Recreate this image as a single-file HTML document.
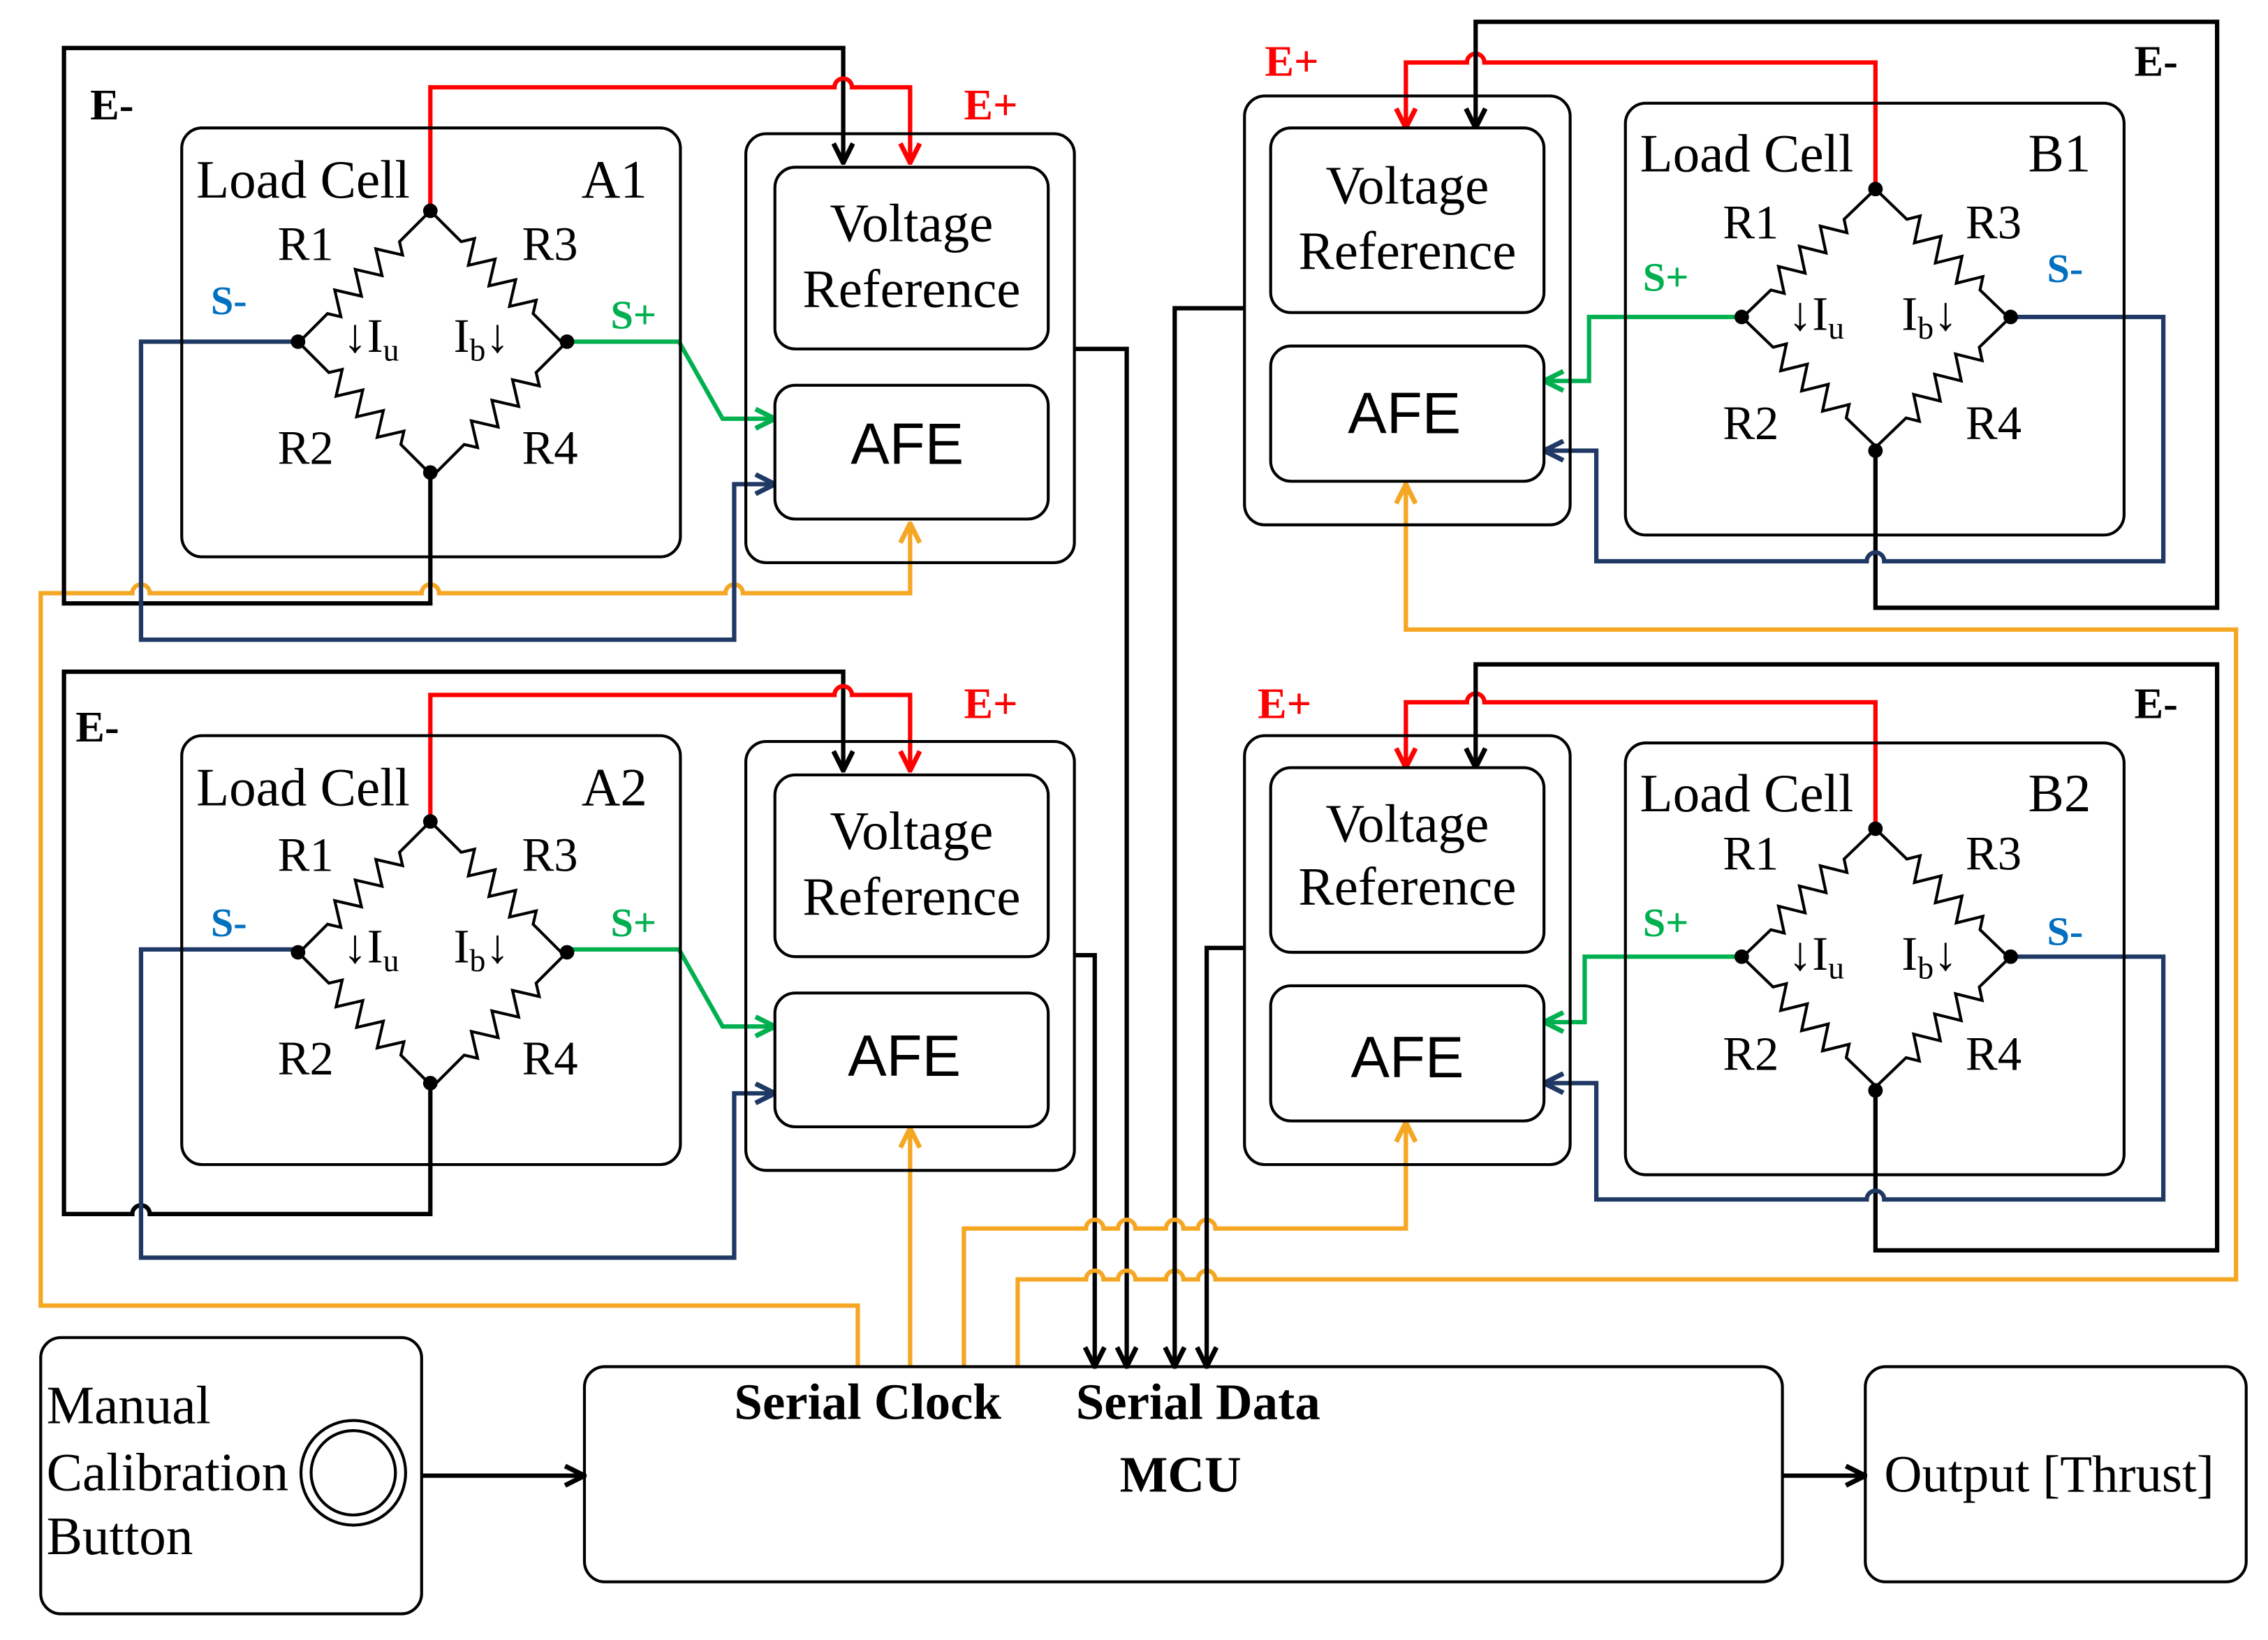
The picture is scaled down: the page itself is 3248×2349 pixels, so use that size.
<!DOCTYPE html>
<html><head><meta charset="utf-8"><style>
html,body{margin:0;padding:0;background:#fff}
svg{display:block}
text{font-family:"Liberation Serif",serif}
.s{font-family:"Liberation Sans",sans-serif}
</style></head><body>
<svg width="3248" height="2349" viewBox="0 0 1560 1128" preserveAspectRatio="none" xmlns="http://www.w3.org/2000/svg">
<defs>
<marker id="mk" markerUnits="userSpaceOnUse" viewBox="0 0 12 12" refX="11" refY="6" markerWidth="16" markerHeight="16" orient="auto"><path d="M1,1 L11,6 L1,11" fill="none" stroke="#000" stroke-width="2.5"/></marker>
<marker id="mr" markerUnits="userSpaceOnUse" viewBox="0 0 12 12" refX="11" refY="6" markerWidth="16" markerHeight="16" orient="auto"><path d="M1,1 L11,6 L1,11" fill="none" stroke="#f00" stroke-width="2.5"/></marker>
<marker id="mb" markerUnits="userSpaceOnUse" viewBox="0 0 12 12" refX="11" refY="6" markerWidth="16" markerHeight="16" orient="auto"><path d="M1,1 L11,6 L1,11" fill="none" stroke="#1f3864" stroke-width="2.5"/></marker>
<marker id="mg" markerUnits="userSpaceOnUse" viewBox="0 0 12 12" refX="11" refY="6" markerWidth="16" markerHeight="16" orient="auto"><path d="M1,1 L11,6 L1,11" fill="none" stroke="#00b050" stroke-width="2.5"/></marker>
<marker id="mo" markerUnits="userSpaceOnUse" viewBox="0 0 12 12" refX="11" refY="6" markerWidth="16" markerHeight="16" orient="auto"><path d="M1,1 L11,6 L1,11" fill="none" stroke="#f5a623" stroke-width="2.5"/></marker>
</defs>
<rect width="1560" height="1128" fill="#fff"/>

<g fill="none" stroke-width="3" stroke-linejoin="miter">
<path d="M590,940 L590,898 L28,898 L28,408 L91,408 a6,6 0 0 1 12,0 L290,408 a6,6 0 0 1 12,0 L499,408 a6,6 0 0 1 12,0 L626,408 L626,360" stroke="#f5a623" marker-end="url(#mo)"/>
<path d="M296,325 L296,415 L44,415 L44,33 L580,33 L580,112" stroke="#000" marker-end="url(#mk)"/>
<path d="M296,145 L296,60 L574,60 a6,6 0 0 1 12,0 L626,60 L626,112" stroke="#f00" marker-end="url(#mr)"/>
<path d="M205,235 L97,235 L97,440 L505,440 L505,333 L533,333" stroke="#1f3864" marker-end="url(#mb)"/>
<path d="M390,235 L467,235 L497,288 L533,288" stroke="#00b050" marker-end="url(#mg)"/>
<path d="M739,240 L775,240 L775,940" stroke="#000" marker-end="url(#mk)"/>
<path d="M296,745 L296,835 L103,835 a6,6 0 0 0 -12,0 L44,835 L44,462 L580,462 L580,530" stroke="#000" marker-end="url(#mk)"/>
<path d="M296,565 L296,478 L574,478 a6,6 0 0 1 12,0 L626,478 L626,530" stroke="#f00" marker-end="url(#mr)"/>
<path d="M205,653 L97,653 L97,865 L505,865 L505,752 L533,752" stroke="#1f3864" marker-end="url(#mb)"/>
<path d="M390,653 L467,653 L497,706 L533,706" stroke="#00b050" marker-end="url(#mg)"/>
<path d="M626,940 L626,776" stroke="#f5a623" marker-end="url(#mo)"/>
<path d="M739,657 L753,657 L753,940" stroke="#000" marker-end="url(#mk)"/>
<path d="M1290,130 L1290,43 L1021,43 a6,6 0 0 0 -12,0 L967,43 L967,88" stroke="#f00" marker-end="url(#mr)"/>
<path d="M1290,310 L1290,418 L1525,418 L1525,15 L1015,15 L1015,88" stroke="#000" marker-end="url(#mk)"/>
<path d="M1383,218 L1488,218 L1488,386 L1296,386 a6,6 0 0 0 -12,0 L1098,386 L1098,310 L1062,310" stroke="#1f3864" marker-end="url(#mb)"/>
<path d="M1198,218 L1093,218 L1093,262 L1062,262" stroke="#00b050" marker-end="url(#mg)"/>
<path d="M700,940 L700,880 L747,880 a6,6 0 0 1 12,0 L769,880 a6,6 0 0 1 12,0 L802,880 a6,6 0 0 1 12,0 L824,880 a6,6 0 0 1 12,0 L1538,880 L1538,433 L967,433 L967,333" stroke="#f5a623" marker-end="url(#mo)"/>
<path d="M856,212 L808,212 L808,940" stroke="#000" marker-end="url(#mk)"/>
<path d="M1290,570 L1290,483 L1021,483 a6,6 0 0 0 -12,0 L967,483 L967,528" stroke="#f00" marker-end="url(#mr)"/>
<path d="M1290,750 L1290,860 L1525,860 L1525,457 L1015,457 L1015,528" stroke="#000" marker-end="url(#mk)"/>
<path d="M1383,658 L1488,658 L1488,825 L1296,825 a6,6 0 0 0 -12,0 L1098,825 L1098,745 L1062,745" stroke="#1f3864" marker-end="url(#mb)"/>
<path d="M1198,658 L1090,658 L1090,703 L1062,703" stroke="#00b050" marker-end="url(#mg)"/>
<path d="M663,940 L663,845 L747,845 a6,6 0 0 1 12,0 L769,845 a6,6 0 0 1 12,0 L802,845 a6,6 0 0 1 12,0 L824,845 a6,6 0 0 1 12,0 L967,845 L967,772" stroke="#f5a623" marker-end="url(#mo)"/>
<path d="M856,652 L830,652 L830,940" stroke="#000" marker-end="url(#mk)"/>
<path d="M282,1015 L402,1015" stroke="#000" marker-end="url(#mk)"/>
<path d="M1226,1015 L1283,1015" stroke="#000" marker-end="url(#mk)"/>
</g>

<g>
<rect x="125" y="88" width="343" height="295" rx="14" fill="none" stroke="#000" stroke-width="2"/>
<rect x="513" y="92" width="226" height="295" rx="14" fill="none" stroke="#000" stroke-width="2"/>
<rect x="533" y="115" width="188" height="125" rx="14" fill="#fff" stroke="#000" stroke-width="2"/>
<rect x="533" y="265" width="188" height="92" rx="14" fill="#fff" stroke="#000" stroke-width="2"/>
<text x="627" y="166" font-size="37" text-anchor="middle">Voltage</text>
<text x="627" y="211" font-size="37" text-anchor="middle">Reference</text>
<text x="624" y="319" font-size="40" text-anchor="middle" class="s">AFE</text>
<text x="135" y="136" font-size="37">Load Cell</text>
<text x="400" y="136" font-size="37">A1</text>
<text x="62" y="82" font-size="30" font-weight="bold">E-</text>
<text x="663" y="82" font-size="30" font-weight="bold" fill="#f00">E+</text>
<text x="145" y="216" font-size="28" font-weight="bold" fill="#0070c0">S-</text>
<text x="420" y="226" font-size="28" font-weight="bold" fill="#00b050">S+</text>
<g transform="translate(296,145)">
<g fill="none" stroke="#000" stroke-width="2">
<path transform="rotate(135)" d="M0,0 L30,0 l5,-8 l10,16 l10,-16 l10,16 l10,-16 l10,16 l10,-16 l5,8 L128,0"/>
<path transform="rotate(45)" d="M0,0 L30,0 l5,-8 l10,16 l10,-16 l10,16 l10,-16 l10,16 l10,-16 l5,8 L128,0"/>
<path transform="translate(-91,90) rotate(45)" d="M0,0 L30,0 l5,-8 l10,16 l10,-16 l10,16 l10,-16 l10,16 l10,-16 l5,8 L128,0"/>
<path transform="translate(94,90) rotate(135)" d="M0,0 L30,0 l5,-8 l10,16 l10,-16 l10,16 l10,-16 l10,16 l10,-16 l5,8 L128,0"/>
</g>
<circle cx="0" cy="0" r="5"/><circle cx="-91" cy="90" r="5"/><circle cx="94" cy="90" r="5"/><circle cx="0" cy="180" r="5"/>
<text x="-105" y="34" font-size="33">R1</text>
<text x="63" y="34" font-size="33">R3</text>
<text x="-105" y="174" font-size="33">R2</text>
<text x="63" y="174" font-size="33">R4</text>
<text x="-60" y="97" font-size="33">↓I<tspan font-size="22" dy="6">u</tspan></text>
<text x="16" y="97" font-size="33">I<tspan font-size="22" dy="6">b</tspan><tspan dy="-6">↓</tspan></text>
</g>
</g>
<g transform="translate(0,418)">
<rect x="125" y="88" width="343" height="295" rx="14" fill="none" stroke="#000" stroke-width="2"/>
<rect x="513" y="92" width="226" height="295" rx="14" fill="none" stroke="#000" stroke-width="2"/>
<rect x="533" y="115" width="188" height="125" rx="14" fill="#fff" stroke="#000" stroke-width="2"/>
<rect x="533" y="265" width="188" height="92" rx="14" fill="#fff" stroke="#000" stroke-width="2"/>
<text x="627" y="166" font-size="37" text-anchor="middle">Voltage</text>
<text x="627" y="211" font-size="37" text-anchor="middle">Reference</text>
<text x="622" y="322" font-size="40" text-anchor="middle" class="s">AFE</text>
<text x="135" y="136" font-size="37">Load Cell</text>
<text x="400" y="136" font-size="37">A2</text>
<text x="52" y="92" font-size="30" font-weight="bold">E-</text>
<text x="663" y="76" font-size="30" font-weight="bold" fill="#f00">E+</text>
<text x="145" y="226" font-size="28" font-weight="bold" fill="#0070c0">S-</text>
<text x="420" y="226" font-size="28" font-weight="bold" fill="#00b050">S+</text>
<g transform="translate(296,147)">
<g fill="none" stroke="#000" stroke-width="2">
<path transform="rotate(135)" d="M0,0 L30,0 l5,-8 l10,16 l10,-16 l10,16 l10,-16 l10,16 l10,-16 l5,8 L128,0"/>
<path transform="rotate(45)" d="M0,0 L30,0 l5,-8 l10,16 l10,-16 l10,16 l10,-16 l10,16 l10,-16 l5,8 L128,0"/>
<path transform="translate(-91,90) rotate(45)" d="M0,0 L30,0 l5,-8 l10,16 l10,-16 l10,16 l10,-16 l10,16 l10,-16 l5,8 L128,0"/>
<path transform="translate(94,90) rotate(135)" d="M0,0 L30,0 l5,-8 l10,16 l10,-16 l10,16 l10,-16 l10,16 l10,-16 l5,8 L128,0"/>
</g>
<circle cx="0" cy="0" r="5"/><circle cx="-91" cy="90" r="5"/><circle cx="94" cy="90" r="5"/><circle cx="0" cy="180" r="5"/>
<text x="-105" y="34" font-size="33">R1</text>
<text x="63" y="34" font-size="33">R3</text>
<text x="-105" y="174" font-size="33">R2</text>
<text x="63" y="174" font-size="33">R4</text>
<text x="-60" y="97" font-size="33">↓I<tspan font-size="22" dy="6">u</tspan></text>
<text x="16" y="97" font-size="33">I<tspan font-size="22" dy="6">b</tspan><tspan dy="-6">↓</tspan></text>
</g>
</g>

<g>
<rect x="1118" y="71" width="343" height="297" rx="14" fill="none" stroke="#000" stroke-width="2"/>
<rect x="856" y="66" width="224" height="295" rx="14" fill="none" stroke="#000" stroke-width="2"/>
<rect x="874" y="88" width="188" height="127" rx="14" fill="#fff" stroke="#000" stroke-width="2"/>
<rect x="874" y="238" width="188" height="93" rx="14" fill="#fff" stroke="#000" stroke-width="2"/>
<text x="968" y="140" font-size="37" text-anchor="middle">Voltage</text>
<text x="968" y="185" font-size="37" text-anchor="middle">Reference</text>
<text x="966" y="298" font-size="40" text-anchor="middle" class="s">AFE</text>
<text x="1128" y="118" font-size="37">Load Cell</text>
<text x="1395" y="118" font-size="37">B1</text>
<text x="1468" y="52" font-size="30" font-weight="bold">E-</text>
<text x="870" y="52" font-size="30" font-weight="bold" fill="#f00">E+</text>
<text x="1130" y="200" font-size="28" font-weight="bold" fill="#00b050">S+</text>
<text x="1408" y="194" font-size="28" font-weight="bold" fill="#0070c0">S-</text>
<g transform="translate(1290,130)">
<g fill="none" stroke="#000" stroke-width="2">
<path transform="rotate(136)" d="M0,0 L30,0 l5,-8 l10,16 l10,-16 l10,16 l10,-16 l10,16 l10,-16 l5,8 L128,0"/>
<path transform="rotate(44)" d="M0,0 L30,0 l5,-8 l10,16 l10,-16 l10,16 l10,-16 l10,16 l10,-16 l5,8 L128,0"/>
<path transform="translate(-92,88) rotate(44)" d="M0,0 L30,0 l5,-8 l10,16 l10,-16 l10,16 l10,-16 l10,16 l10,-16 l5,8 L128,0"/>
<path transform="translate(93,88) rotate(136)" d="M0,0 L30,0 l5,-8 l10,16 l10,-16 l10,16 l10,-16 l10,16 l10,-16 l5,8 L128,0"/>
</g>
<circle cx="0" cy="0" r="5"/><circle cx="-92" cy="88" r="5"/><circle cx="93" cy="88" r="5"/><circle cx="0" cy="180" r="5"/>
<text x="-105" y="34" font-size="33">R1</text>
<text x="62" y="34" font-size="33">R3</text>
<text x="-105" y="172" font-size="33">R2</text>
<text x="62" y="172" font-size="33">R4</text>
<text x="-60" y="97" font-size="33">↓I<tspan font-size="22" dy="6">u</tspan></text>
<text x="18" y="97" font-size="33">I<tspan font-size="22" dy="6">b</tspan><tspan dy="-6">↓</tspan></text>
</g>
</g>
<g transform="translate(0,440)">
<rect x="1118" y="71" width="343" height="297" rx="14" fill="none" stroke="#000" stroke-width="2"/>
<rect x="856" y="66" width="224" height="295" rx="14" fill="none" stroke="#000" stroke-width="2"/>
<rect x="874" y="88" width="188" height="127" rx="14" fill="#fff" stroke="#000" stroke-width="2"/>
<rect x="874" y="238" width="188" height="93" rx="14" fill="#fff" stroke="#000" stroke-width="2"/>
<text x="968" y="139" font-size="37" text-anchor="middle">Voltage</text>
<text x="968" y="182" font-size="37" text-anchor="middle">Reference</text>
<text x="968" y="301" font-size="40" text-anchor="middle" class="s">AFE</text>
<text x="1128" y="118" font-size="37">Load Cell</text>
<text x="1395" y="118" font-size="37">B2</text>
<text x="1468" y="54" font-size="30" font-weight="bold">E-</text>
<text x="865" y="54" font-size="30" font-weight="bold" fill="#f00">E+</text>
<text x="1130" y="204" font-size="28" font-weight="bold" fill="#00b050">S+</text>
<text x="1408" y="210" font-size="28" font-weight="bold" fill="#0070c0">S-</text>
<g transform="translate(1290,130)">
<g fill="none" stroke="#000" stroke-width="2">
<path transform="rotate(136)" d="M0,0 L30,0 l5,-8 l10,16 l10,-16 l10,16 l10,-16 l10,16 l10,-16 l5,8 L128,0"/>
<path transform="rotate(44)" d="M0,0 L30,0 l5,-8 l10,16 l10,-16 l10,16 l10,-16 l10,16 l10,-16 l5,8 L128,0"/>
<path transform="translate(-92,88) rotate(44)" d="M0,0 L30,0 l5,-8 l10,16 l10,-16 l10,16 l10,-16 l10,16 l10,-16 l5,8 L128,0"/>
<path transform="translate(93,88) rotate(136)" d="M0,0 L30,0 l5,-8 l10,16 l10,-16 l10,16 l10,-16 l10,16 l10,-16 l5,8 L128,0"/>
</g>
<circle cx="0" cy="0" r="5"/><circle cx="-92" cy="88" r="5"/><circle cx="93" cy="88" r="5"/><circle cx="0" cy="180" r="5"/>
<text x="-105" y="28" font-size="33">R1</text>
<text x="62" y="28" font-size="33">R3</text>
<text x="-105" y="166" font-size="33">R2</text>
<text x="62" y="166" font-size="33">R4</text>
<text x="-60" y="97" font-size="33">↓I<tspan font-size="22" dy="6">u</tspan></text>
<text x="18" y="97" font-size="33">I<tspan font-size="22" dy="6">b</tspan><tspan dy="-6">↓</tspan></text>
</g>
</g>

<rect x="28" y="920" width="262" height="190" rx="14" fill="#fff" stroke="#000" stroke-width="2"/>
<text x="32" y="979" font-size="37">Manual</text>
<text x="32" y="1025" font-size="37">Calibration</text>
<text x="32" y="1069" font-size="37">Button</text>
<circle cx="243" cy="1013" r="36" fill="#fff" stroke="#000" stroke-width="2"/>
<circle cx="243" cy="1013" r="29" fill="none" stroke="#000" stroke-width="2"/>
<rect x="402" y="940" width="824" height="148" rx="14" fill="none" stroke="#000" stroke-width="2"/>
<text x="505" y="976" font-size="35" font-weight="bold">Serial Clock</text>
<text x="740" y="976" font-size="35" font-weight="bold">Serial Data</text>
<text x="812" y="1026" font-size="35" font-weight="bold" text-anchor="middle">MCU</text>
<rect x="1283" y="940" width="262" height="148" rx="14" fill="none" stroke="#000" stroke-width="2"/>
<text x="1296" y="1026" font-size="36">Output [Thrust]</text>
</svg>
</body></html>
